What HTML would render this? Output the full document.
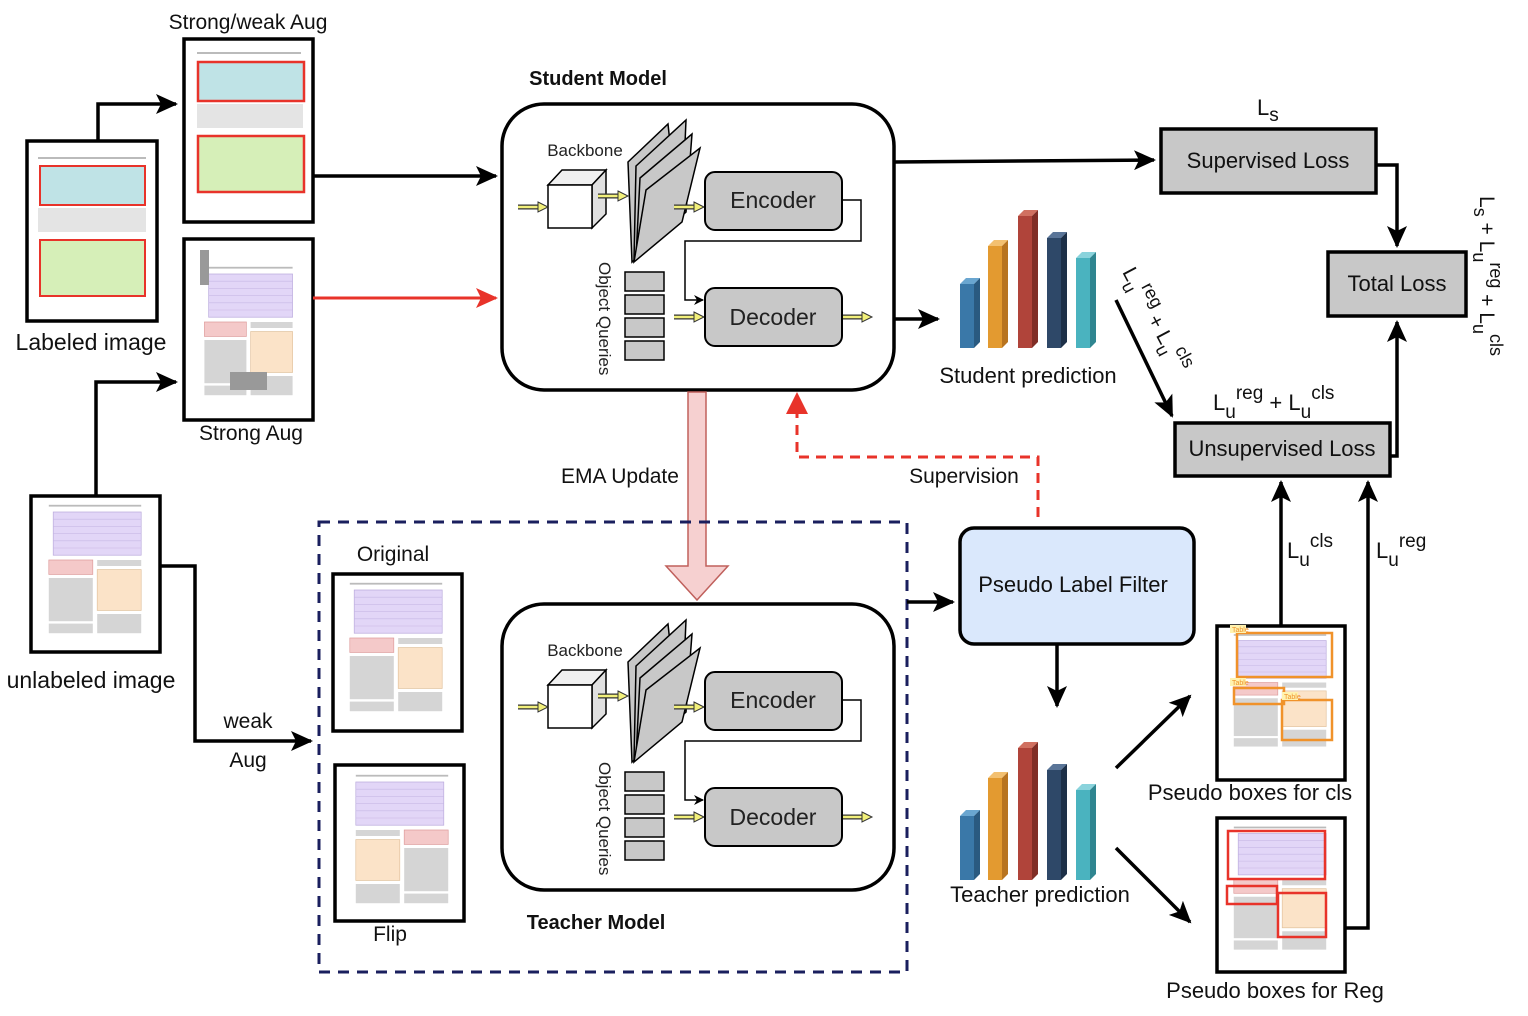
<!DOCTYPE html>
<html><head><meta charset="utf-8"><style>
html,body{margin:0;padding:0;background:#fff}
svg{display:block;font-family:"Liberation Sans",Arial,sans-serif}
</style></head><body>
<svg width="1528" height="1016" viewBox="0 0 1528 1016" xmlns="http://www.w3.org/2000/svg">
<defs>
<marker id="ah" markerWidth="10" markerHeight="10" refX="9" refY="5" orient="auto" markerUnits="userSpaceOnUse" viewBox="0 0 10 10"><path d="M0,0 L10,5 L0,10 L3,5 z" fill="#000"/></marker>
<marker id="ahb" markerWidth="22" markerHeight="20" refX="20" refY="10" orient="auto" markerUnits="userSpaceOnUse" viewBox="0 0 22 20"><path d="M0,0 L22,10 L0,20 L5,10 z" fill="#000"/></marker>
<marker id="ahr" markerWidth="22" markerHeight="20" refX="20" refY="10" orient="auto" markerUnits="userSpaceOnUse" viewBox="0 0 22 20"><path d="M0,0 L22,10 L0,20 L5,10 z" fill="#e8332a"/></marker>
<g id="yarr"><line x1="0" y1="0" x2="22" y2="0" stroke="#333" stroke-width="5"/><line x1="0" y1="0" x2="22" y2="0" stroke="#f2f07a" stroke-width="2.5"/><path d="M20,-5 L30,0 L20,5 z" fill="#f2f07a" stroke="#333" stroke-width="1"/></g>
<g id="page">
<rect x="8" y="4" width="84" height="1.5" fill="#bbb"/>
<rect x="12" y="10" width="80" height="36" fill="#e2d6f7" stroke="#b9a9dc" stroke-width="0.6"/>
<g stroke="#c7b8e6" stroke-width="0.5"><line x1="12" y1="16" x2="92" y2="16"/><line x1="12" y1="22" x2="92" y2="22"/><line x1="12" y1="28" x2="92" y2="28"/><line x1="12" y1="34" x2="92" y2="34"/><line x1="12" y1="40" x2="92" y2="40"/></g>
<rect x="8" y="50" width="40" height="12" fill="#f4c9c9" stroke="#d99" stroke-width="0.6"/>
<rect x="52" y="58" width="40" height="34" fill="#fbe3c8" stroke="#e0c09a" stroke-width="0.6"/>
<g fill="#d5d5d5"><rect x="8" y="65" width="40" height="36"/><rect x="52" y="95" width="40" height="16"/><rect x="52" y="50" width="40" height="5"/><rect x="8" y="103" width="40" height="8"/></g>
</g>
<g id="model">
<rect x="502" y="104" width="392" height="286" rx="42" fill="#fff" stroke="#000" stroke-width="3.5"/>
<text x="585" y="156" font-size="17" text-anchor="middle" fill="#222">Backbone</text>
<path d="M548,185 L562,170 L606,170 L592,185 z" fill="#f0f0f0" stroke="#000" stroke-width="1.5"/>
<path d="M592,185 L606,170 L606,214 L592,228 z" fill="#e0e0e0" stroke="#000" stroke-width="1.5"/>
<rect x="548" y="185" width="44" height="43" fill="#fff" stroke="#000" stroke-width="1.5"/>
<g fill="#c8c8c8" stroke="#000" stroke-width="1.5">
<path d="M628,162 L668,124 L678,218 L632,262 z"/>
<path d="M636,166 L686,120 L682,214 L634,260 z"/>
<path d="M640,178 L692,134 L686,212 L636,258 z"/>
<path d="M646,190 L700,148 L682,222 L634,262 z"/>
</g>
<use href="#yarr" x="518" y="207"/>
<use href="#yarr" x="598" y="196"/>
<use href="#yarr" x="674" y="207"/>
<use href="#yarr" x="674" y="317"/>
<use href="#yarr" x="842" y="317"/>
<rect x="705" y="172" width="137" height="58" rx="10" fill="#c8c8c8" stroke="#000" stroke-width="2"/>
<text x="773" y="208" font-size="23" text-anchor="middle" fill="#222">Encoder</text>
<rect x="705" y="288" width="137" height="58" rx="10" fill="#c8c8c8" stroke="#000" stroke-width="2"/>
<text x="773" y="325" font-size="23" text-anchor="middle" fill="#222">Decoder</text>
<path d="M842,200 L861,200 L861,241 L685,241 L685,300 L703,300" fill="none" stroke="#000" stroke-width="1.5" marker-end="url(#ah)"/>
<g fill="#c8c8c8" stroke="#000" stroke-width="1.5">
<rect x="625" y="272" width="39" height="19"/><rect x="625" y="295" width="39" height="19"/><rect x="625" y="318" width="39" height="19"/><rect x="625" y="341" width="39" height="19"/>
</g>
<text x="0" y="0" font-size="17" fill="#222" transform="translate(599,262) rotate(90)">Object Queries</text>
</g>
<g id="bars">
<path d="M960,284 l6,-6 l14,0 l-6,6 z" fill="#6aa6d0"/><rect x="960" y="284" width="14" height="64" fill="#3a78a8"/><path d="M974,284 l6,-6 l0,64 l-6,6 z" fill="#2a5a80"/>
<path d="M988,246 l6,-6 l14,0 l-6,6 z" fill="#f3c070"/><rect x="988" y="246" width="14" height="102" fill="#e39a30"/><path d="M1002,246 l6,-6 l0,102 l-6,6 z" fill="#b87420"/>
<path d="M1018,216 l6,-6 l14,0 l-6,6 z" fill="#d07060"/><rect x="1018" y="216" width="14" height="132" fill="#b0443a"/><path d="M1032,216 l6,-6 l0,132 l-6,6 z" fill="#802e26"/>
<path d="M1047,238 l6,-6 l14,0 l-6,6 z" fill="#5a7598"/><rect x="1047" y="238" width="14" height="110" fill="#2e4868"/><path d="M1061,238 l6,-6 l0,110 l-6,6 z" fill="#1d3048"/>
<path d="M1076,258 l6,-6 l14,0 l-6,6 z" fill="#8ad3dc"/><rect x="1076" y="258" width="14" height="90" fill="#4ab3bf"/><path d="M1090,258 l6,-6 l0,90 l-6,6 z" fill="#2f8590"/>
</g>
</defs>

<rect x="27" y="141" width="130" height="180" fill="#fff" stroke="#000" stroke-width="3.5"/>
<rect x="38" y="157" width="108" height="2" fill="#bbb"/>
<rect x="40" y="166" width="105" height="39" fill="#bfe3e6" stroke="#e8332a" stroke-width="2"/>
<rect x="38" y="208" width="108" height="24" fill="#e4e4e4"/>
<rect x="40" y="240" width="105" height="56" fill="#d6efb8" stroke="#e8332a" stroke-width="2"/>
<text x="91" y="350" font-size="23" text-anchor="middle" fill="#111">Labeled image</text>
<path d="M98,141 L98,104 L176,104" fill="none" stroke="#000" stroke-width="3.5" marker-end="url(#ahb)"/>

<text x="248" y="29" font-size="21" text-anchor="middle" fill="#111">Strong/weak Aug</text>
<rect x="184" y="39" width="129" height="183" fill="#fff" stroke="#000" stroke-width="3.5"/>
<rect x="197" y="52" width="104" height="2" fill="#bbb"/>
<rect x="198" y="62" width="106" height="39" fill="#bfe3e6" stroke="#e8332a" stroke-width="2.5"/>
<rect x="197" y="104" width="106" height="24" fill="#e4e4e4"/>
<rect x="198" y="136" width="106" height="56" fill="#d6efb8" stroke="#e8332a" stroke-width="2.5"/>
<path d="M313,176 L496,176" fill="none" stroke="#000" stroke-width="3.5" marker-end="url(#ahb)"/>

<rect x="184" y="239" width="129" height="181" fill="#fff" stroke="#000" stroke-width="3.5"/>
<use href="#page" transform="translate(196,262) scale(1.05,1.2)"/>
<rect x="200" y="250" width="9" height="35" fill="#999"/>
<rect x="230" y="372" width="37" height="18" fill="#999"/>
<text x="251" y="440" font-size="21" text-anchor="middle" fill="#111">Strong Aug</text>
<path d="M313,298 L496,298" fill="none" stroke="#e8332a" stroke-width="3" marker-end="url(#ahr)"/>

<rect x="31" y="496" width="129" height="156" fill="#fff" stroke="#000" stroke-width="3.5"/>
<use href="#page" transform="translate(40,500) scale(1.1,1.2)"/>
<text x="91" y="688" font-size="23" text-anchor="middle" fill="#111">unlabeled image</text>
<path d="M96,496 L96,382 L176,382" fill="none" stroke="#000" stroke-width="3.5" marker-end="url(#ahb)"/>
<path d="M160,566 L195,566 L195,741 L311,741" fill="none" stroke="#000" stroke-width="3.5" marker-end="url(#ahb)"/>
<text x="248" y="728" font-size="21" text-anchor="middle" fill="#111">weak</text>
<text x="248" y="767" font-size="21" text-anchor="middle" fill="#111">Aug</text>

<text x="598" y="85" font-size="20" font-weight="bold" text-anchor="middle" fill="#111">Student Model</text>
<use href="#model"/>
<path d="M894,162 L1154,160" fill="none" stroke="#000" stroke-width="3.5" marker-end="url(#ahb)"/>
<path d="M894,319 L938,319" fill="none" stroke="#000" stroke-width="3.5" marker-end="url(#ahb)"/>
<use href="#bars"/>
<text x="1028" y="383" font-size="22" text-anchor="middle" fill="#111">Student prediction</text>

<path d="M688,392 L706,392 L706,566 L728,566 L697,600 L666,566 L688,566 z" fill="#f6d0d0" stroke="#c0605c" stroke-width="1.5"/>
<text x="620" y="483" font-size="21" text-anchor="middle" fill="#111">EMA Update</text>

<path d="M1038,517 L1038,457 L797,457 L797,400" fill="none" stroke="#e8332a" stroke-width="3" stroke-dasharray="10,7"/>
<path d="M786,414 L797,392 L808,414 z" fill="#e8332a"/>
<text x="964" y="483" font-size="21" text-anchor="middle" fill="#111">Supervision</text>

<rect x="319" y="522" width="588" height="450" fill="none" stroke="#1a1f5e" stroke-width="3" stroke-dasharray="11,8"/>
<text x="393" y="561" font-size="21" text-anchor="middle" fill="#111">Original</text>
<rect x="333" y="574" width="129" height="157" fill="#fff" stroke="#000" stroke-width="3.5"/>
<use href="#page" transform="translate(341,578) scale(1.1,1.2)"/>
<rect x="335" y="765" width="129" height="156" fill="#fff" stroke="#000" stroke-width="3.5"/>
<use href="#page" transform="translate(457,770) scale(-1.1,1.2)"/>
<text x="390" y="941" font-size="21" text-anchor="middle" fill="#111">Flip</text>
<use href="#model" transform="translate(0,500)"/>
<text x="596" y="929" font-size="20" font-weight="bold" text-anchor="middle" fill="#111">Teacher Model</text>
<path d="M907,602 L953,602" fill="none" stroke="#000" stroke-width="3.5" marker-end="url(#ahb)"/>

<rect x="960" y="528" width="234" height="116" rx="14" fill="#dae8fc" stroke="#000" stroke-width="3.5"/>
<text x="1073" y="592" font-size="22" text-anchor="middle" fill="#111">Pseudo Label Filter</text>
<path d="M1057,644 L1057,706" fill="none" stroke="#000" stroke-width="3.5" marker-end="url(#ahb)"/>
<use href="#bars" transform="translate(0,532)"/>
<text x="1040" y="902" font-size="22" text-anchor="middle" fill="#111">Teacher prediction</text>
<path d="M1116,768 L1190,696" fill="none" stroke="#000" stroke-width="3.5" marker-end="url(#ahb)"/>
<path d="M1116,848 L1190,922" fill="none" stroke="#000" stroke-width="3.5" marker-end="url(#ahb)"/>

<rect x="1217" y="626" width="128" height="154" fill="#fff" stroke="#000" stroke-width="3.5"/>
<use href="#page" transform="translate(1225,630) scale(1.1,1.05)"/>
<g fill="none" stroke="#f0922a" stroke-width="2.5"><rect x="1237" y="633" width="95" height="44"/><rect x="1234" y="688" width="50" height="16"/><rect x="1282" y="700" width="50" height="40"/></g>
<g font-size="7" fill="#f0922a"><rect x="1230" y="625" width="16" height="8" fill="#fff3b0"/><text x="1232" y="632">Table</text><rect x="1230" y="678" width="16" height="8" fill="#fff3b0"/><text x="1232" y="685">Table</text><rect x="1282" y="692" width="16" height="8" fill="#fff3b0"/><text x="1284" y="699">Table</text></g>
<text x="1250" y="800" font-size="22" text-anchor="middle" fill="#111">Pseudo boxes for cls</text>
<rect x="1217" y="818" width="128" height="154" fill="#fff" stroke="#000" stroke-width="3.5"/>
<use href="#page" transform="translate(1225,822) scale(1.1,1.15)"/>
<g fill="none" stroke="#e8332a" stroke-width="2.5"><rect x="1228" y="831" width="97" height="48"/><rect x="1227" y="886" width="50" height="18"/><rect x="1278" y="893" width="48" height="44"/></g>
<text x="1275" y="998" font-size="22" text-anchor="middle" fill="#111">Pseudo boxes for Reg</text>
<path d="M1281,626 L1281,482" fill="none" stroke="#000" stroke-width="3.5" marker-end="url(#ahb)"/>
<path d="M1345,928 L1368,928 L1368,482" fill="none" stroke="#000" stroke-width="3.5" marker-end="url(#ahb)"/>
<text x="1287" y="558" font-size="22" fill="#111">L<tspan font-size="19" dy="8">u</tspan><tspan font-size="19" dy="-19">cls</tspan></text>
<text x="1376" y="558" font-size="22" fill="#111">L<tspan font-size="19" dy="8">u</tspan><tspan font-size="19" dy="-19">reg</tspan></text>

<text x="1257" y="115" font-size="22" fill="#111">L<tspan font-size="19" dy="6">s</tspan></text>
<rect x="1161" y="129" width="215" height="64" fill="#c8c8c8" stroke="#000" stroke-width="3.5"/>
<text x="1268" y="168" font-size="22" text-anchor="middle" fill="#111">Supervised Loss</text>
<path d="M1376,165 L1397,165 L1397,246" fill="none" stroke="#000" stroke-width="3.5" marker-end="url(#ahb)"/>
<rect x="1328" y="252" width="138" height="64" fill="#c8c8c8" stroke="#000" stroke-width="3.5"/>
<text x="1397" y="291" font-size="22" text-anchor="middle" fill="#111">Total Loss</text>
<rect x="1175" y="423" width="215" height="53" fill="#c8c8c8" stroke="#000" stroke-width="3.5"/>
<text x="1282" y="456" font-size="22" text-anchor="middle" fill="#111">Unsupervised Loss</text>
<path d="M1390,456 L1397,456 L1397,322" fill="none" stroke="#000" stroke-width="3.5" marker-end="url(#ahb)"/>
<text x="1213" y="410" font-size="22" fill="#111">L<tspan font-size="19" dy="8">u</tspan><tspan font-size="19" dy="-19">reg</tspan><tspan dy="11"> + L</tspan><tspan font-size="19" dy="8">u</tspan><tspan font-size="19" dy="-19">cls</tspan></text>
<path d="M1116,300 L1172,416" fill="none" stroke="#000" stroke-width="3.5" marker-end="url(#ahb)"/>
<text transform="translate(1122,272) rotate(62)" font-size="21" fill="#111">L<tspan font-size="18" dy="7">u</tspan><tspan font-size="18" dy="-17">reg</tspan><tspan dy="10"> + L</tspan><tspan font-size="18" dy="7">u</tspan><tspan font-size="18" dy="-17">cls</tspan></text>
<text transform="translate(1480,196) rotate(90)" font-size="21" fill="#111">L<tspan font-size="18" dy="6">s</tspan><tspan dy="-6"> + L</tspan><tspan font-size="18" dy="7">u</tspan><tspan font-size="18" dy="-17">reg</tspan><tspan dy="10"> + L</tspan><tspan font-size="18" dy="7">u</tspan><tspan font-size="18" dy="-17">cls</tspan></text>
</svg>
</body></html>
